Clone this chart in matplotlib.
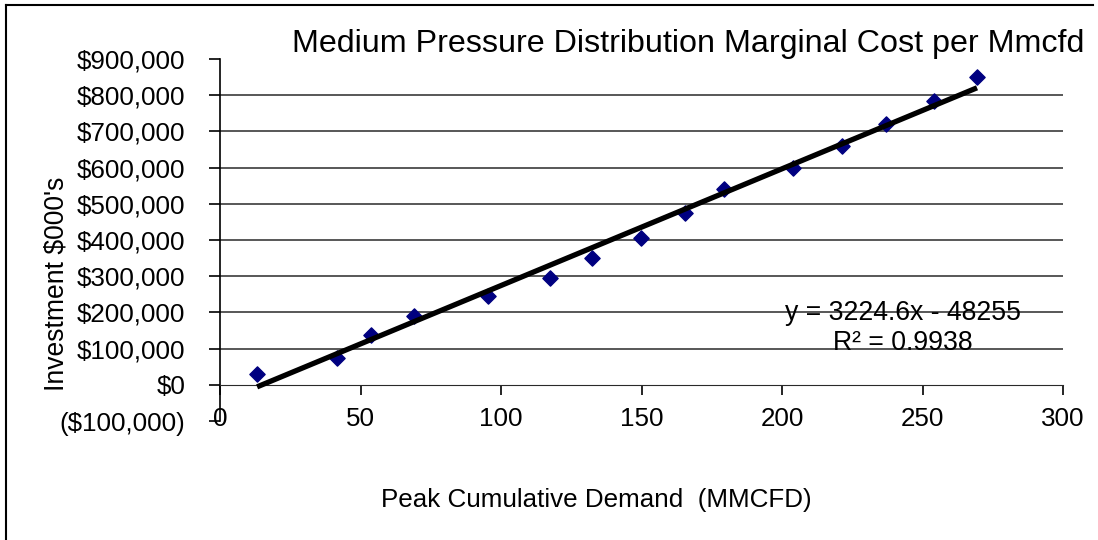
import numpy as np
import matplotlib.pyplot as plt
from matplotlib.ticker import FuncFormatter
from matplotlib.lines import Line2D

plt.rcParams['font.family'] = ['Liberation Sans', 'DejaVu Sans']

# peak cumulative demand (MMCFD) and investment ($000's)
demand = [13.2, 41.6, 53.7, 69.0, 95.4, 117.4, 132.4, 149.8, 165.5, 179.4,
          203.9, 221.4, 237.0, 254.1, 269.4]
investment = [30000, 75000, 138000, 191000, 246000, 296000, 351000, 406000,
              475000, 541000, 599000, 660000, 721000, 784000, 851000]

# linear trendline as reported on the chart
slope = 3224.6
intercept = -48255
r2 = 0.9938

W, H = 1098, 540
fig = plt.figure(figsize=(W/100, H/100), dpi=100)
ax = fig.add_axes([220/W, 1-421/H, (1063-220)/W, (421-59)/H])

ax.set_xlim(0, 300)
ax.set_ylim(-100000, 900000)

# gridlines
for v in range(100000, 900000, 100000):
    ax.axhline(v, color='#2a2a2a', lw=1.1, zorder=1)

ax.scatter(demand, investment, marker='D', s=60, color='#000080', zorder=3)

xs = np.array([min(demand), max(demand)])
ax.plot(xs, slope*xs + intercept, color='black', lw=3.8, zorder=4,
        solid_capstyle='butt')

fig.text(903/W, 1-313/H, f"y = {slope}x - {abs(intercept)}",
         fontsize=19.2, ha='center', va='center', zorder=5)
fig.text(903/W, 1-343/H, f"R² = {r2}",
         fontsize=19.2, ha='center', va='center', zorder=5)

for s in ['top', 'right']:
    ax.spines[s].set_visible(False)
ax.spines['bottom'].set_position(('data', 0))
ax.spines['bottom'].set_color('#2a2a2a')
ax.spines['left'].set_linewidth(1.2)

ax.set_xticks(range(0, 301, 50))
ax.set_yticks(range(-100000, 900001, 100000))

def money(v, pos):
    if v < 0:
        return f"(${abs(v):,.0f})"
    return f"${v:,.0f}"

ax.yaxis.set_major_formatter(FuncFormatter(money))
ax.tick_params(axis='y', direction='out', length=8, width=1.2, pad=17,
               labelsize=18.7)
ax.tick_params(axis='x', direction='out', length=7, width=1.2, pad=9,
               labelsize=18.7)

fig.text(688/W, 1-44/H, "Medium Pressure Distribution Marginal Cost per Mmcfd",
         fontsize=23.2, ha='center', va='center')
fig.text(56/W, 1-284/H, "Investment $000's", fontsize=19.1,
         rotation=90, ha='center', va='center')
fig.text(596/W, 1-500/H, "Peak Cumulative Demand  (MMCFD)", fontsize=18.7,
         ha='center', va='center')

# chart border (top and left visible)
fig.add_artist(Line2D([6/W, 1093/W], [1-5/H, 1-5/H], color='black', lw=1.5))
fig.add_artist(Line2D([6/W, 6/W], [1-5/H, 0], color='black', lw=1.5))

fig.savefig("out.png", dpi=100)
